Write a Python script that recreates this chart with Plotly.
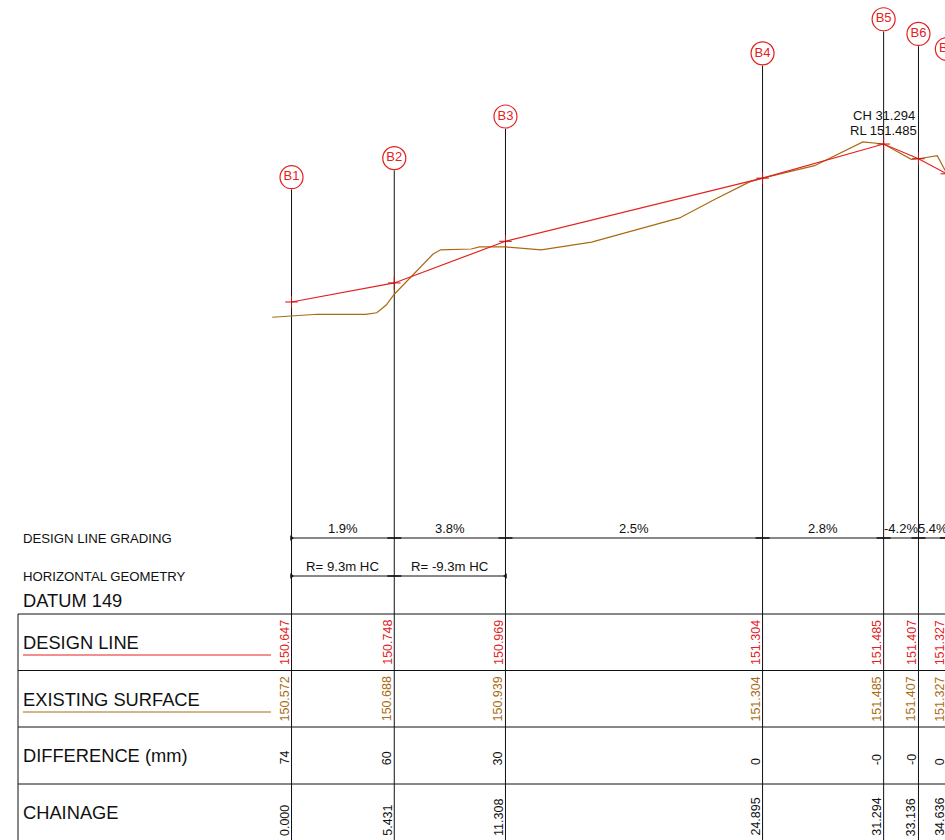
import plotly.graph_objects as go

# ---------- data ----------
bores = ["B1", "B2", "B3", "B4", "B5", "B6", "B7"]
chainage = [0.000, 5.431, 11.308, 24.895, 31.294, 33.136, 34.636]
chainage_labels = ["0.000", "5.431", "11.308", "24.895", "31.294", "33.136", "34.636"]
design_rl = [150.647, 150.748, 150.969, 151.304, 151.485, 151.407, 151.327]
design_labels = ["150.647", "150.748", "150.969", "151.304", "151.485", "151.407", "151.327"]
existing_labels = ["150.572", "150.688", "150.939", "151.304", "151.485", "151.407", "151.327"]
difference_labels = ["74", "60", "30", "0", "-0", "-0", "0"]
grading_labels = ["1.9%", "3.8%", "2.5%", "2.8%", "-4.2%", "5.4%"]
geometry_labels = ["R= 9.3m HC", "R= -9.3m HC"]

surface_ch = [-1.02, 0.0, 1.374, 3.911, 4.508, 5.005, 5.431, 7.468, 7.875, 9.498, 9.937,
              11.308, 13.198, 15.856, 20.507, 22.410, 24.207, 24.895, 27.643, 30.196,
              31.294, 32.754, 33.136, 34.128, 34.636]
surface_rl = [150.566, 150.572, 150.582, 150.581, 150.590, 150.631, 150.688, 150.900,
              150.924, 150.928, 150.939, 150.939, 150.923, 150.965, 151.093, 151.193,
              151.284, 151.304, 151.370, 151.496, 151.485, 151.404, 151.407, 151.423, 151.327]

row_titles = ["DESIGN LINE", "EXISTING SURFACE", "DIFFERENCE (mm)", "CHAINAGE"]

# ---------- layout constants ----------
# the drawing runs off the right of the sheet, so the figure is a little wider than the window
W, H = 955, 840
X_RANGE = [-15.407, 35.066]
Y_RANGE = [147.793, 152.249]
RED = "#e3211f"
BROWN = "#a96b12"
INK = "#111111"
FONT = "Liberation Sans"
ROW_Y = [614, 670.5, 727, 784]
TABLE_LEFT = 18
BUBBLE_OFFSET = 0.662
STEM_OFFSET = 0.597
GRADE_Y, GEOM_Y = 538, 576

fig = go.Figure()


def pix_line(xs, ys, color=INK, width=1, xaxis="x"):
    fig.add_trace(go.Scatter(x=xs, y=ys, mode="lines", xaxis=xaxis, yaxis="y2",
                             line=dict(color=color, width=width),
                             hoverinfo="skip", showlegend=False))


def ticks(xs, y, symbol, size, width):
    fig.add_trace(go.Scatter(x=xs, y=[y] * len(xs), mode="markers", yaxis="y2",
                             marker=dict(symbol=symbol, size=size, color=INK,
                                         line=dict(color=INK, width=width)),
                             hoverinfo="skip", showlegend=False))


# ---------- verticals from bubble to the bottom of the table ----------
for ch, rl in zip(chainage, design_rl):
    fig.add_trace(go.Scatter(x=[ch, ch], y=[rl + STEM_OFFSET, Y_RANGE[0]], mode="lines",
                             line=dict(color=INK, width=1), hoverinfo="skip", showlegend=False))

# ---------- profiles ----------
fig.add_trace(go.Scatter(x=surface_ch, y=surface_rl, mode="lines",
                         line=dict(color=BROWN, width=1.2), showlegend=False))
fig.add_trace(go.Scatter(x=chainage, y=design_rl, mode="lines+markers",
                         line=dict(color=RED, width=1.2),
                         marker=dict(symbol="cross-thin", size=9, color=RED,
                                     line=dict(color="#c01010", width=1)),
                         showlegend=False))

# ---------- bubbles ----------
fig.add_trace(go.Scatter(x=chainage, y=[r + BUBBLE_OFFSET for r in design_rl],
                         mode="markers+text", text=bores, textposition="middle center",
                         textfont=dict(family=FONT, size=13, color=RED),
                         marker=dict(symbol="circle-open", size=23, color=RED,
                                     line=dict(width=1.2, color=RED)),
                         showlegend=False))

# ---------- table rules ----------
for y in ROW_Y:
    pix_line([TABLE_LEFT, W], [y, y], xaxis="x2")
pix_line([TABLE_LEFT, TABLE_LEFT], [ROW_Y[0], H], xaxis="x2")
pix_line([23, 271], [655, 655], color=RED, xaxis="x2")
pix_line([23, 271], [712, 712], color=BROWN, xaxis="x2")

# ---------- dimension lines ----------
pix_line([chainage[0], chainage[-1]], [GRADE_Y, GRADE_Y])
pix_line([chainage[0], chainage[2]], [GEOM_Y, GEOM_Y])
ticks(chainage[1:], GRADE_Y, "line-ew", 10, 1.5)
ticks(chainage[1:2], GEOM_Y, "line-ew", 10, 1.5)
ticks(chainage[:1], GRADE_Y, "triangle-right", 4, 0.5)
ticks(chainage[:1], GEOM_Y, "triangle-right", 4, 0.5)
ticks(chainage[2:3], GEOM_Y, "triangle-left", 4, 0.5)


# ---------- text ----------
def note(text, x, y, size=13, color=INK, xref="x", yref="y2", **kw):
    fig.add_annotation(text=text, x=x, y=y, xref=xref, yref=yref, showarrow=False,
                       borderpad=0, borderwidth=0,
                       font=dict(family=FONT, size=size, color=color), **kw)


for i, label in enumerate(grading_labels):
    note(label, (chainage[i] + chainage[i + 1]) / 2, 528.5)
for i, label in enumerate(geometry_labels):
    note(label, (chainage[i] + chainage[i + 1]) / 2, 566.5, size=13.2)

note("DESIGN LINE GRADING", 23, 538.5, size=13.2, xref="x2", xanchor="left")
note("HORIZONTAL GEOMETRY", 23, 576.5, size=13.2, xref="x2", xanchor="left")
note("DATUM 149", 23, 600.5, size=18.3, xref="x2", xanchor="left")
for title, y in zip(row_titles, [642.5, 699.5, 755.5, 812.5]):
    note(title, 23, y, size=18.3, xref="x2", xanchor="left")

note("CH 31.294", chainage[4], 115.5)
note("RL 151.485", chainage[4], 130)

for ch, a, b, c, d in zip(chainage, design_labels, existing_labels, difference_labels, chainage_labels):
    for text, bottom, color in ((a, 665, RED), (b, 721.5, BROWN), (c, 765, INK), (d, 836, INK)):
        note(text, ch, bottom, size=12.5, color=color, textangle=-90,
             xshift=-7, yanchor="bottom")

# ---------- layout ----------
hidden = dict(visible=False, fixedrange=True)
fig.update_layout(
    width=W, height=H, margin=dict(l=0, r=0, t=0, b=0),
    paper_bgcolor="white", plot_bgcolor="white", showlegend=False,
    font=dict(family=FONT),
    xaxis=dict(range=X_RANGE, **hidden),
    xaxis2=dict(range=[0, W], overlaying="x", **hidden),
    yaxis=dict(range=Y_RANGE, **hidden),
    yaxis2=dict(range=[H, 0], overlaying="y", **hidden),
)
fig.write_html("out.html", config={"displayModeBar": False},
               post_script="document.body.style.margin='0';document.body.style.overflow='hidden';")
